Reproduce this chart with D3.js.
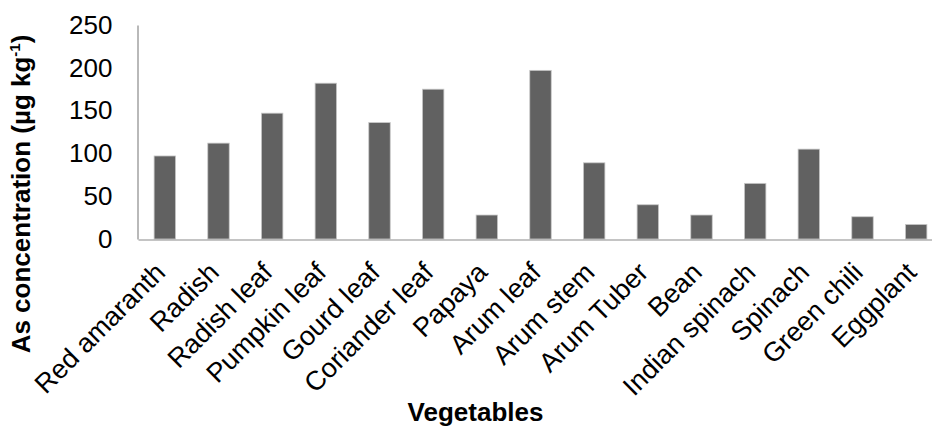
<!DOCTYPE html>
<html>
<head>
<meta charset="utf-8">
<script src="https://cdn.jsdelivr.net/npm/d3@7"></script>
<style>
  html, body { margin: 0; padding: 0; background: #fff; }
  svg { display: block; }
  text { font-family: "Liberation Sans", Arial, sans-serif; fill: #000; }
</style>
</head>
<body>
<script>
const categories = ["Red amaranth", "Radish", "Radish leaf", "Pumpkin leaf", "Gourd leaf", "Coriander leaf", "Papaya", "Arum leaf", "Arum stem", "Arum Tuber", "Bean", "Indian spinach", "Spinach", "Green chili", "Eggplant"];
const values = [97, 112, 147, 182, 136, 175, 28, 197, 89, 40, 28, 65, 105, 26, 17];
const yTicks = [0, 50, 100, 150, 200, 250];
const yTitle = "As concentration (µg kg";
const xTitle = "Vegetables";

const W = 932, H = 427;
const svg = d3.select("body").append("svg").attr("width", W).attr("height", H);

const x = d3.scaleBand().domain(categories).range([138, 943]).paddingInner(0.6).paddingOuter(0.3);
const y = d3.scaleLinear().domain([0, 250]).range([239, 25]);

// bars
svg.append("g").selectAll("rect").data(values).join("rect")
  .attr("x", (d, i) => x(categories[i]))
  .attr("width", x.bandwidth())
  .attr("y", d => y(d))
  .attr("height", d => y(0) - y(d))
  .attr("fill", "#616161")
  .attr("stroke", "#c8c8c8")
  .attr("stroke-width", 0.8);

// y axis
const yAxis = svg.append("g").attr("transform", "translate(137.5,0)")
  .call(d3.axisLeft(y).tickValues(yTicks).tickSize(0).tickPadding(25));
yAxis.select(".domain").attr("stroke", "#8a8a8a").attr("stroke-width", 1.2);
yAxis.selectAll("text").attr("font-size", 26).attr("font-family", "Liberation Sans, Arial, sans-serif").attr("fill", "#000");

// x axis
const xAxis = svg.append("g").attr("transform", "translate(0,239.5)")
  .call(d3.axisBottom(x).tickSize(0).tickFormat(""));
xAxis.select(".domain").attr("stroke", "#8a8a8a").attr("stroke-width", 1.2);

// x labels rotated
svg.append("g").selectAll("text").data(categories).join("text")
  .attr("transform", d => `translate(${x(d) + x.bandwidth() / 2 + 2},${y(0) + 35}) rotate(-45)`)
  .attr("text-anchor", "end")
  .attr("font-size", 27)
  .text(d => d);

// y title
const yt = svg.append("text")
  .attr("transform", "translate(30,194) rotate(-90)")
  .attr("text-anchor", "middle")
  .attr("font-size", 26)
  .attr("font-weight", "bold");
yt.append("tspan").text(yTitle);
yt.append("tspan").attr("font-size", 15).attr("dy", -10).text("-1");
yt.append("tspan").attr("dy", 10).text(")");

// x title
svg.append("text")
  .attr("x", 475.5).attr("y", 421)
  .attr("text-anchor", "middle")
  .attr("font-size", 26)
  .attr("font-weight", "bold")
  .text(xTitle);
</script>
</body>
</html>
